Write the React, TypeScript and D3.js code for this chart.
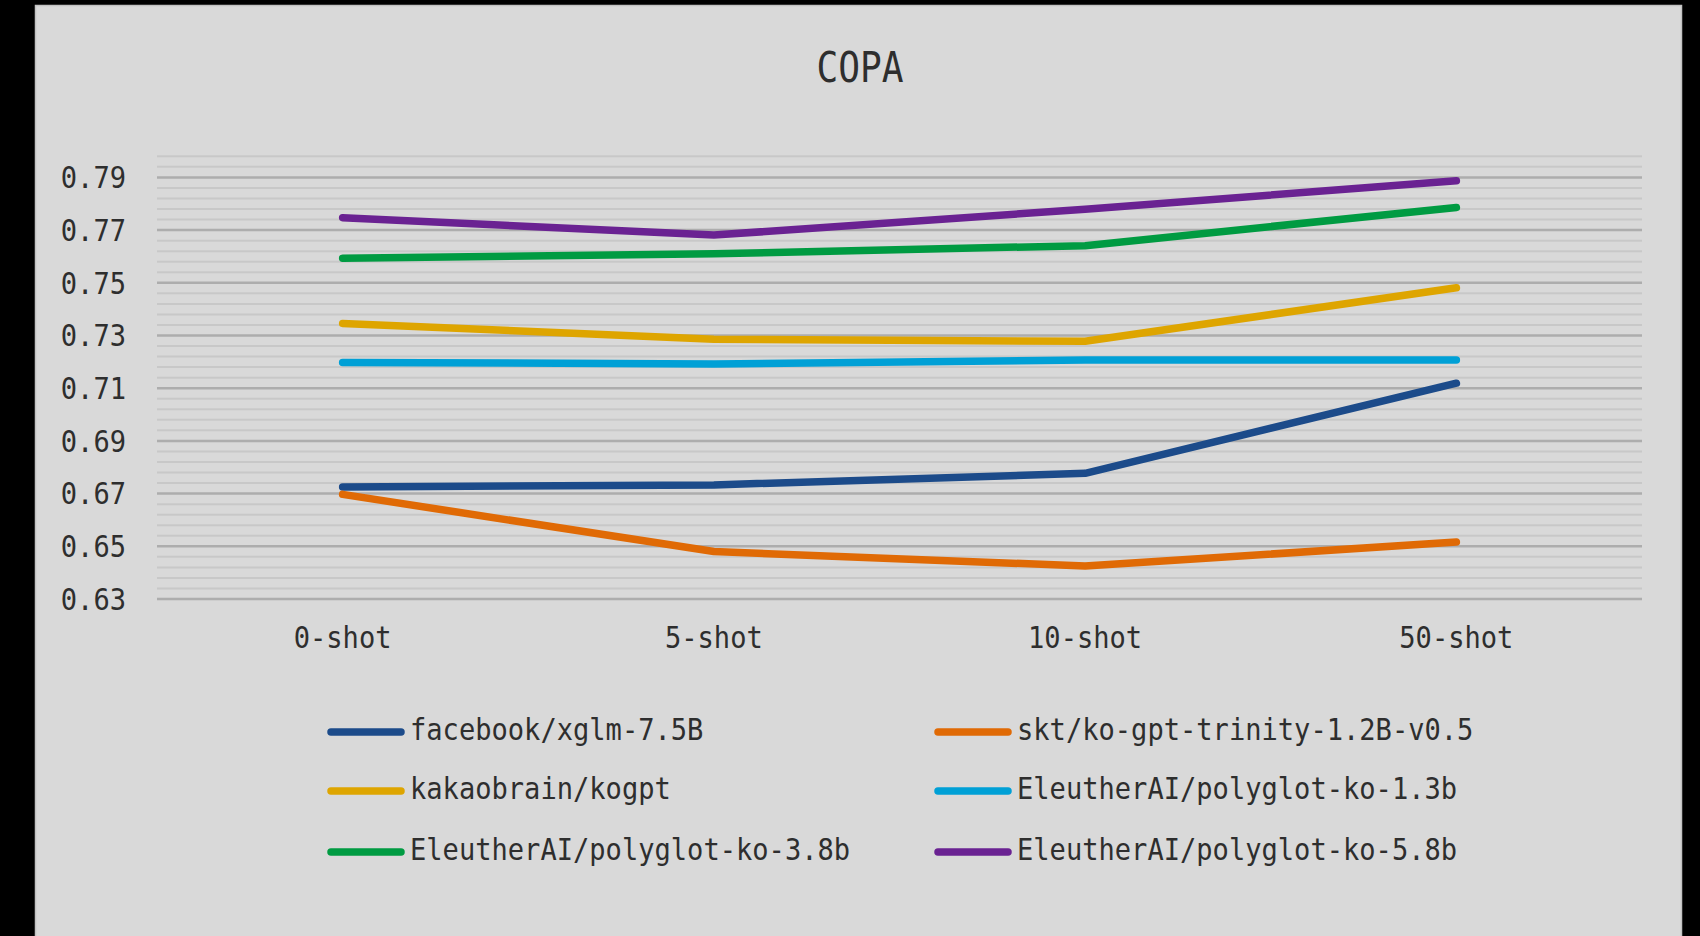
import React from "react";
import * as d3 from "d3";

const categories = ["0-shot", "5-shot", "10-shot", "50-shot"];

const seriesNames = [
  "facebook/xglm-7.5B",
  "skt/ko-gpt-trinity-1.2B-v0.5",
  "kakaobrain/kogpt",
  "EleutherAI/polyglot-ko-1.3b",
  "EleutherAI/polyglot-ko-3.8b",
  "EleutherAI/polyglot-ko-5.8b",
];

const xglm = [0.6725, 0.6733, 0.6777, 0.7119];
const trinity = [0.6697, 0.648, 0.6425, 0.6516];
const kogpt = [0.7346, 0.7286, 0.7278, 0.7481];
const polyglot13 = [0.7198, 0.7192, 0.7207, 0.7207];
const polyglot38 = [0.7593, 0.761, 0.7641, 0.7786];
const polyglot58 = [0.7747, 0.7681, 0.7779, 0.7887];

const seriesValues = [xglm, trinity, kogpt, polyglot13, polyglot38, polyglot58];
const seriesColors = ["#1c4b8a", "#e06a05", "#dea500", "#00a0d6", "#009b42", "#6a2292"];

const yTickLabels = ["0.63", "0.65", "0.67", "0.69", "0.71", "0.73", "0.75", "0.77", "0.79"];

const W = 1700;
const H = 936;
const FONT = "'DejaVu Sans Mono', 'Liberation Mono', monospace";
const CHAR_W = 16.3;

export default function App() {
  const plot = { left: 157, right: 1642, top: 151, bottom: 599 };

  const x = d3
    .scaleBand<string>()
    .domain(categories)
    .range([plot.left, plot.right]);

  const y = d3.scaleLinear().domain([0.63, 0.8]).range([plot.bottom, plot.bottom - (0.17 / 0.02) * 52.7]);

  // minor grid every 0.004, major every 0.02
  const gridVals = d3.range(0, 43).map((k) => ({ v: 0.63 + k * 0.004, major: k % 5 === 0 }));

  const line = d3
    .line<number>()
    .x((_, i) => (x(categories[i]) as number) + x.bandwidth() / 2)
    .y((d) => y(d));

  const legendCols = [328, 935];
  const legendRows = [729, 788, 849];

  return (
    <svg
      width={W}
      height={H}
      style={{ position: "absolute", left: 0, top: 0, display: "block" }}
    >
      <rect x={0} y={0} width={W} height={H} fill="#000" />
      <rect x={35.5} y={5.5} width={1646} height={H + 10} fill="#d9d9d9" stroke="#c2c2c2" strokeWidth={1.5} />

      <text
        x={860}
        y={82}
        textAnchor="middle"
        fontFamily={FONT}
        fontSize={42}
        fill="#2e2e2e"
        textLength={87}
        lengthAdjust="spacingAndGlyphs"
      >
        COPA
      </text>

      {/* grid */}
      {gridVals
        .filter((g) => !g.major)
        .map((g, i) => (
          <line
            key={"mn" + i}
            x1={plot.left}
            x2={plot.right}
            y1={y(g.v)}
            y2={y(g.v)}
            stroke="#c8c8c8"
            strokeWidth={2}
          />
        ))}
      {gridVals
        .filter((g) => g.major)
        .map((g, i) => (
          <line
            key={"mj" + i}
            x1={plot.left}
            x2={plot.right}
            y1={y(g.v)}
            y2={y(g.v)}
            stroke="#adadad"
            strokeWidth={2.5}
          />
        ))}

      {/* y labels */}
      {yTickLabels.map((t) => (
        <text
          key={t}
          x={126}
          y={y(+t)}
          dy="0.36em"
          textAnchor="end"
          fontFamily={FONT}
          fontSize={30}
          fill="#2e2e2e"
          textLength={t.length * CHAR_W}
          lengthAdjust="spacingAndGlyphs"
        >
          {t}
        </text>
      ))}

      {/* x labels */}
      {categories.map((c) => (
        <text
          key={c}
          x={(x(c) as number) + x.bandwidth() / 2}
          y={648}
          textAnchor="middle"
          fontFamily={FONT}
          fontSize={30}
          fill="#2e2e2e"
          textLength={c.length * CHAR_W}
          lengthAdjust="spacingAndGlyphs"
        >
          {c}
        </text>
      ))}

      {/* series */}
      {seriesValues.map((vals, i) => (
        <path
          key={seriesNames[i]}
          d={line(vals) || ""}
          fill="none"
          stroke={seriesColors[i]}
          strokeWidth={7.5}
          strokeLinecap="round"
          strokeLinejoin="round"
        />
      ))}

      {/* legend */}
      {seriesNames.map((name, i) => {
        const lx = legendCols[i % 2];
        const ly = legendRows[Math.floor(i / 2)];
        return (
          <g key={"lg" + name}>
            <line
              x1={lx + 3}
              x2={lx + 73}
              y1={ly + 3}
              y2={ly + 3}
              stroke={seriesColors[i]}
              strokeWidth={7.5}
              strokeLinecap="round"
            />
            <text
              x={lx + 82}
              y={ly}
              dy="0.36em"
              fontFamily={FONT}
              fontSize={30}
              fill="#2e2e2e"
              textLength={name.length * CHAR_W}
              lengthAdjust="spacingAndGlyphs"
            >
              {name}
            </text>
          </g>
        );
      })}
    </svg>
  );
}
